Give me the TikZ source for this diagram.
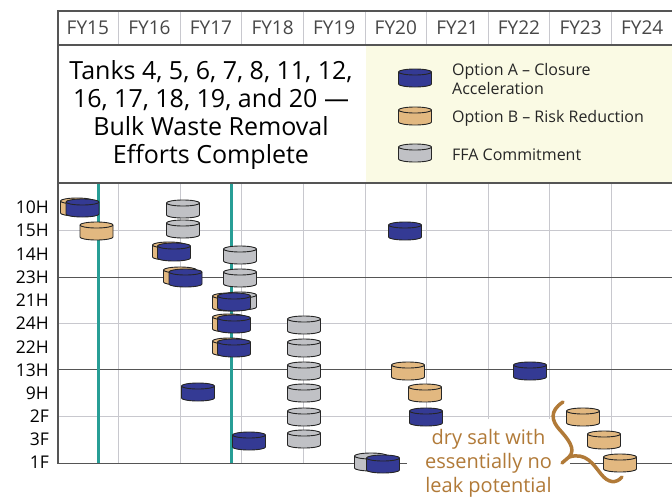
\documentclass[tikz,border=0pt]{standalone}
\usepackage{fontspec}
\setmainfont{Open Sans}
\usepackage{xcolor}
\usepackage{tikz}
\usetikzlibrary{calc}

\definecolor{optA}{RGB}{52,58,148}
\definecolor{optB}{RGB}{226,184,128}
\definecolor{ffa}{RGB}{192,193,197}
\definecolor{milestone}{RGB}{40,158,150}
\definecolor{salt}{RGB}{177,122,56}
\definecolor{legbg}{RGB}{250,250,228}
\definecolor{gridc}{RGB}{200,200,206}
\definecolor{framec}{RGB}{85,85,85}

% tank cylinder: name, centre, fill
\newcommand{\tank}[3]{%
	\coordinate (#1) at #2;
	\filldraw[tankline, fill=#3] ($(#1)+(-16.5,-6)$) -- ($(#1)+(-16.5,6)$)
		arc[start angle=180, end angle=360, x radius=16.5pt, y radius=3pt]
		-- ($(#1)+(16.5,-6)$)
		arc[start angle=0, end angle=180, x radius=16.5pt, y radius=3pt] -- cycle;
	\draw[tankline] ($(#1)+(-16.5,-6)$)
		arc[start angle=180, end angle=360, x radius=16.5pt, y radius=3pt];
}

\begin{document}
\begin{tikzpicture}[x=1pt,y=-1pt,
		tankline/.style={draw=black!85, line width=0.9pt, line join=round},
		fylabel/.style={text=black!72, font=\fontsize{19}{22}\selectfont, inner sep=0pt},
		tanklabel/.style={anchor=east, inner sep=0pt, font=\fontsize{17.5}{20}\selectfont},
		legtext/.style={anchor=base west, inner sep=0pt, align=left, text=black!85, font=\fontsize{16}{19}\selectfont}]
		\useasboundingbox (0,0) rectangle (672,498);
		
		\fill[legbg] (366,45.5) rectangle (672,182.5);
		
		\foreach \x in {118.6,180.2,241.8,303.4,365,426.6,488.2,549.8,611.4} {
			\draw[gridc, line width=1pt] (\x,11) -- (\x,45);
			\draw[gridc, line width=1pt] (\x,183) -- (\x,463.5);
		}
		\foreach \y in {230.7,323.5,416.3}
			\draw[gridc, line width=1pt] (58,\y) -- (672,\y);
		\foreach \y in {277.1,369.9}
			\draw[framec, line width=1pt] (58,\y) -- (672,\y);
		
		\draw[milestone, line width=3pt] (98,44) -- (98,464);
		\draw[milestone, line width=3pt] (231,44) -- (231,464);
		\fill[white] (58.5,45.6) rectangle (365.5,182.4);
		
		\draw[framec, line width=1.2pt] (672,11) -- (58,11) -- (58,463.5) -- (672,463.5);
		\draw[framec, line width=1.2pt] (58,45) -- (672,45);
		\draw[framec, line width=1.2pt] (58,183) -- (672,183);
		
		\foreach \i in {0,...,9} {
			\pgfmathtruncatemacro\fy{15+\i}
			\node[fylabel] (FY\fy) at ({87.8+61.6*\i},28) {FY\fy};
		}
		
		\node[align=center, inner sep=0pt, font=\fontsize{25}{28}\selectfont] (title) at (211,115)
			{Tanks 4, 5, 6, 7, 8, 11, 12,\\16, 17, 18, 19, and 20 ---\\Bulk Waste Removal\\Efforts Complete};
		
		\tank{legA}{(415,78)}{optA}
		\tank{legB}{(415,116)}{optB}
		\tank{legF}{(415,153)}{ffa}
		\node[legtext] (legA-text) at (452,94) {Option A -- Closure\\Acceleration};
		\node[legtext] (legB-text) at (452,122) {Option B -- Risk Reduction};
		\node[legtext] (legF-text) at (452,160) {FFA Commitment};
		
		\foreach \t [count=\i from 0] in {10H,15H,14H,23H,21H,24H,22H,13H,9H,2F,3F,1F}
			\node[tanklabel] (row-\t) at (49,{207.5+23.2*\i}) {\t};
		
		\node[fill=white, minimum width=163pt, minimum height=90pt, inner sep=0pt, align=center,
			text=salt, font=\fontsize{20}{24}\selectfont] (note) at (488.5,463.5)
			{dry salt with\\essentially no\\leak potential};
		
		\tank{B-10H}{(77,207)}{optB}
		\tank{A-10H}{(82.5,208)}{optA}
		\tank{F-10H}{(183,209)}{ffa}
		
		\tank{B-15H}{(96.5,231)}{optB}
		\tank{F-15H}{(183,229)}{ffa}
		\tank{A-15H}{(405,231)}{optA}
		
		\tank{B-14H}{(169,251)}{optB}
		\tank{A-14H}{(174,252)}{optA}
		\tank{F-14H}{(240,255)}{ffa}
		
		\tank{B-23H}{(180,276)}{optB}
		\tank{A-23H}{(185.5,278)}{optA}
		\tank{F-23H}{(240,278)}{ffa}
		
		\tank{F-21H}{(240,301)}{ffa}
		\tank{B-21H}{(229,302)}{optB}
		\tank{A-21H}{(234,302)}{optA}
		
		\tank{B-24H}{(229,323)}{optB}
		\tank{A-24H}{(234,324)}{optA}
		\tank{F-24H}{(304,325)}{ffa}
		
		\tank{B-22H}{(229,347)}{optB}
		\tank{A-22H}{(234,348)}{optA}
		\tank{F-22H}{(304,348)}{ffa}
		
		\tank{F-13H}{(304,371)}{ffa}
		\tank{B-13H}{(408,371)}{optB}
		\tank{A-13H}{(530,371)}{optA}
		
		\tank{A-9H}{(198,392)}{optA}
		\tank{F-9H}{(304,393)}{ffa}
		\tank{B-9H}{(425,393)}{optB}
		
		\tank{F-2F}{(304,417)}{ffa}
		\tank{A-2F}{(426,417)}{optA}
		\tank{B-2F}{(583,417)}{optB}
		
		\tank{A-3F}{(249,441)}{optA}
		\tank{F-3F}{(304,439)}{ffa}
		\tank{B-3F}{(604,440)}{optB}
		
		\tank{F-1F}{(371,462)}{ffa}
		\tank{A-1F}{(383,464)}{optA}
		\tank{B-1F}{(620,463)}{optB}
		
		% brace
		\draw[salt, line width=3.5pt, line cap=round, line join=round]
			(563,402) .. controls (549,411) and (552,421) .. (559,429)
			.. controls (567,438) and (577,449) .. (569,457) -- (562,463);
		\draw[salt, line width=3.5pt, line cap=round]
			(569,457) .. controls (586,452) and (593,464) .. (601,474)
			.. controls (608,483) and (616,484) .. (622,477);
\end{tikzpicture}
\end{document}
